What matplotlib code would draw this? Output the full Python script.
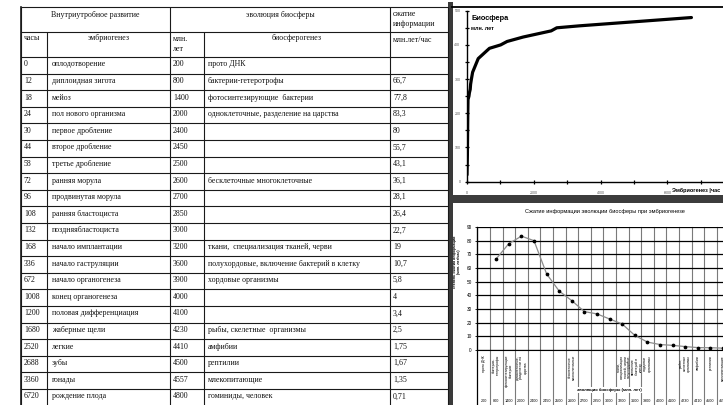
import textwrap
import numpy as np
import matplotlib
matplotlib.use('Agg')
import matplotlib.pyplot as plt
from matplotlib.transforms import blended_transform_factory
from matplotlib.ticker import MultipleLocator, FixedLocator
from matplotlib.patches import Rectangle

# ---------------- data ----------------
hours = [0, 12, 18, 24, 30, 44, 58, 72, 96, 108, 132, 168, 336, 672, 1008,
         1200, 1680, 2520, 2688, 3360, 6720]
embryo_events = ["оплодотворение", "диплоидная зигота", "мейоз", "пол нового организма",
                 "первое дробление", "второе дробление", "третье дробление", "ранняя морула",
                 "продвинутая морула", "ранняя бластоциста", "поздняябластоциста",
                 "начало имплантации", "начало гаструляции", "начало органогенеза",
                 "конец органогенеза", "половая дифференциация", "жаберные щели", "легкие",
                 "зубы", "гонады", "рождение плода"]
myr = [200, 800, 1400, 2000, 2400, 2450, 2500, 2600, 2700, 2850, 3000, 3200, 3600,
       3900, 4000, 4100, 4230, 4410, 4500, 4557, 4800]
bio_events = ["прото ДНК", "бактерии-гетеротрофы", "фотосинтезирующие  бактерии",
              "одноклеточные, разделение на царства", "", "", "",
              "бесклеточные многоклеточные", "", "", "",
              "ткани,  специализация тканей, черви",
              "полухордовые, включение бактерий в клетку", "хордовые организмы", "", "",
              "рыбы, скелетные  организмы", "амфибии", "рептилии", "млекопитающие",
              "гоминиды, человек"]
compression = [np.nan, 66.7, 77.8, 83.3, 80, 55.7, 43.1, 36.1, 28.1, 26.4, 22.7, 19,
               10.7, 5.8, 4, 3.4, 2.5, 1.75, 1.67, 1.35, 0.71]

header_top = ["Внутриутробное развитие", "эволюция биосферы", "сжатие\nинформации"]
header_sub = ["часы", "эмбриогенез", "млн.\nлет", "биосферогенез", "млн.лет/час"]
top_title = "Биосфера"
top_units = "млн. лет"
top_xlabel = "Эмбриогенез |час"
bottom_title = "Сжатие информации эволюции биосферы при эмбриогенезе"
bottom_ylabel = "степень сжатия информации\n(млн. лет/час)"
bottom_xlabel = "эволюция биосферы (млн. лет)"

# ---------------- figure ----------------
W, H = 723, 405
fig = plt.figure(figsize=(W / 100, H / 100), dpi=100)
fig.patch.set_facecolor('white')


def rect(x0, y0, x1, y1):
    return [x0 / W, 1 - y1 / H, (x1 - x0) / W, (y1 - y0) / H]


bg = fig.add_axes([0, 0, 1, 1], zorder=0)
bg.set_xlim(0, W)
bg.set_ylim(H, 0)
bg.axis('off')

# ---------------- table ----------------
serif = 'Liberation Serif'
tfs = 5.7
col_x = [21, 47, 170, 204, 390, 448]
t_top, t_h1, t_h2 = 7, 32, 57
row_h = 16.6
n = len(hours)
lk = dict(color='#1a1a1a', lw=0.8, solid_capstyle='butt')

for y in [t_top, t_h1, t_h2] + [t_h2 + row_h * (i + 1) for i in range(n)]:
    bg.plot([col_x[0], col_x[-1]], [y, y], **lk)
for x in [col_x[0], col_x[2], col_x[4], col_x[5]]:
    bg.plot([x, x], [t_top, H], **lk)
for x in [col_x[1], col_x[3]]:
    bg.plot([x, x], [t_h1, H], **lk)
bg.plot([col_x[0], col_x[0]], [t_top, H], color='#1a1a1a', lw=1.2)

tk = dict(fontfamily=serif, fontsize=tfs, color='#111111')
bg.text((col_x[0] + col_x[2]) / 2, 15, header_top[0], ha='center', va='center', **tk)
bg.text((col_x[2] + col_x[4]) / 2, 15, header_top[1], ha='center', va='center', **tk)
bg.text(col_x[4] + 3, 10, header_top[2], ha='left', va='top', linespacing=1.25, **tk)
bg.text(col_x[0] + 3, 38, header_sub[0], ha='left', va='center', **tk)
bg.text((col_x[1] + col_x[2]) / 2, 38, header_sub[1], ha='center', va='center', **tk)
bg.text(col_x[2] + 3, 35, header_sub[2], ha='left', va='top', linespacing=1.3, **tk)
bg.text((col_x[3] + col_x[4]) / 2, 38, header_sub[3], ha='center', va='center', **tk)
bg.text(col_x[4] + 3, 40, header_sub[4], ha='left', va='center', **tk)

for i in range(n):
    yc = t_h2 + row_h * i + row_h * 0.45
    comp = compression[i]
    comp_txt = '' if np.isnan(comp) else f"{comp:g}".replace('.', ',')
    bg.text(col_x[0] + 3, yc, str(hours[i]), ha='left', va='center', **tk)
    bg.text(col_x[1] + 5, yc, embryo_events[i], ha='left', va='center', **tk)
    bg.text(col_x[2] + 3, yc, str(myr[i]), ha='left', va='center', **tk)
    bg.text(col_x[3] + 4, yc, bio_events[i], ha='left', va='center', **tk)
    bg.text(col_x[4] + 3, yc, comp_txt, ha='left', va='center', **tk)

# ---------------- frame bands ----------------
bg.add_patch(Rectangle((448, 2), 4.5, H - 2, color='#3a3a3a', lw=0))
bg.add_patch(Rectangle((448, 195), W - 448, 8, color='#3c3c3c', lw=0))
bg.plot([452, W], [7, 7], color='black', lw=1.3)

sans = 'Liberation Sans'

# ---------------- top chart ----------------
ax1 = fig.add_axes(rect(467, 10.7, 723, 181.7), facecolor='none', zorder=2)
ax1.plot(hours, np.array(myr) / 10, color='black', lw=2.3,
         solid_joinstyle='round', solid_capstyle='round')
ax1.set_xlim(0, 7665)
ax1.set_ylim(0, 500)
ax1.spines[['top', 'right']].set_visible(False)
for s in ['left', 'bottom']:
    ax1.spines[s].set_linewidth(1.0)
ax1.xaxis.set_major_locator(FixedLocator([0, 2000, 4000, 6000]))
ax1.xaxis.set_minor_locator(FixedLocator([1000, 3000, 5000, 7000]))
ax1.yaxis.set_major_locator(MultipleLocator(100))
ax1.yaxis.set_minor_locator(MultipleLocator(50))
ax1.tick_params(which='both', direction='inout', length=3.5, width=0.9,
                labelsize=2.6, labelcolor='#555555')
ax1.tick_params(axis='x', pad=5)
ax1.tick_params(axis='y', pad=3)
for lab in ax1.get_xticklabels() + ax1.get_yticklabels():
    lab.set_fontfamily(sans)
ax1.text(0.016, 0.955, top_title, transform=ax1.transAxes, fontfamily=sans,
         fontsize=5.3, fontweight='bold', ha='left', va='center')
ax1.text(0.016, 0.895, top_units, transform=ax1.transAxes, fontfamily=sans,
         fontsize=4.0, fontweight='bold', ha='left', va='center')
bg.text(672, 190, top_xlabel, fontfamily=sans, fontsize=4.0, fontweight='bold',
        ha='left', va='center')

# ---------------- bottom chart ----------------
cat_w = 12.6
ncat = len(myr)
ax2 = fig.add_axes(rect(477.3, 227, 477.3 + ncat * cat_w, 350), facecolor='none', zorder=2)
xs = np.arange(ncat)
ax2.plot(xs, compression, color='#8c8c8c', lw=0.9, zorder=3)
ax2.plot(xs, compression, 'o', color='black', ms=1.7, zorder=4)
ax2.set_xlim(-0.5, ncat - 0.5)
ax2.set_ylim(0, 90)
ax2.yaxis.set_major_locator(MultipleLocator(10))
ax2.set_xticks([])
ax2.grid(axis='y', color='black', lw=0.9)
for s in ['top', 'right']:
    ax2.spines[s].set_visible(False)
ax2.spines['left'].set_color('black')
ax2.spines['bottom'].set_color('black')
ax2.tick_params(axis='y', length=1.5, width=0.6, labelsize=3.4, pad=2.5)
for lab in ax2.get_yticklabels():
    lab.set_fontfamily(sans)

trans = blended_transform_factory(ax2.transData, ax2.transAxes)
for i in range(1, ncat + 1):
    ax2.plot([i - 0.5, i - 0.5], [-0.447, 1], transform=trans, color='#7a7a7a',
             lw=0.8, clip_on=False, zorder=1)
ax2.plot([-0.5, -0.5], [-0.447, 1], transform=trans, color='black', lw=0.9,
         clip_on=False, zorder=1)

for i in range(ncat):
    lbl = textwrap.fill(" ".join(bio_events[i].split()), 14, break_long_words=False)
    if lbl:
        ax2.text(i, -0.04, lbl, transform=trans, rotation=90, ha='center', va='top',
                 fontsize=2.4, fontfamily=sans, linespacing=1.0, clip_on=False)
    ax2.text(i, -0.415, str(myr[i]), transform=trans, ha='center', va='center',
             fontsize=2.7, fontfamily=sans, clip_on=False)

ax2.text(0.5, -0.325, bottom_xlabel, transform=ax2.transAxes, ha='center', va='center',
         fontsize=3.0, fontfamily=sans, fontweight='bold',
         bbox=dict(facecolor='white', edgecolor='none', pad=0.6), zorder=5)

bg.text(605, 211, bottom_title, ha='center', va='center', fontsize=4.1, fontfamily=sans)
bg.text(457, 262, bottom_ylabel, ha='center', va='center', rotation=90, fontsize=2.6,
        fontfamily=sans, fontweight='bold', linespacing=1.1)

fig.savefig('out.png', dpi=100, facecolor='white')
